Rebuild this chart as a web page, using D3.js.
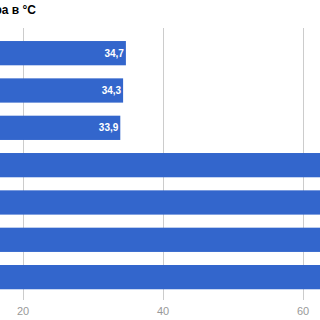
<!DOCTYPE html>
<html>
<head>
<meta charset="utf-8">
<script src="https://cdn.jsdelivr.net/npm/d3@7"></script>
<style>
  body { margin: 0; background: #fff; }
  svg { display: block; font-family: "Liberation Sans", Arial, sans-serif; }
</style>
</head>
<body>
<div id="chart"></div>
<script>
// data (bars 4-7 run off the right edge, values estimated)
var categories = ["A", "B", "C", "D", "E", "F", "G"]
var temps = [34.7, 34.3, 33.9, 72.4, 75.1, 77.8, 80.3]
var ticks = [0, 20, 40, 60, 80]
var title = "Температура в °C"

var width = 320
var height = 320

var svg = d3.select("#chart")
            .append("svg")
            .attr("width", width)
            .attr("height", height)

// chart is cropped: zero sits off to the left
var x = d3.scaleLinear()
          .domain([0, 80])
          .range([-117, 443])

var y = d3.scaleBand()
          .domain(categories)
          .range([34.5, 295.8])
          .paddingInner(0.35)
          .paddingOuter(0.175)

// gridlines
svg.append("g")
   .selectAll("line")
   .data(ticks)
   .join("line")
   .attr("x1", d => Math.round(x(d)) + 0.5)
   .attr("x2", d => Math.round(x(d)) + 0.5)
   .attr("y1", 28)
   .attr("y2", 300)
   .attr("stroke", "#cccccc")
   .attr("stroke-width", 1)

// tick labels
svg.append("g")
   .selectAll("text")
   .data(ticks)
   .join("text")
   .attr("x", d => x(d))
   .attr("y", 315)
   .attr("text-anchor", "middle")
   .attr("font-size", "11px")
   .attr("fill", "#999999")
   .text(d => d)

// bars
svg.append("g")
   .selectAll("rect")
   .data(temps)
   .join("rect")
   .attr("x", x(0))
   .attr("y", (d, i) => y(categories[i]))
   .attr("width", d => x(d) - x(0))
   .attr("height", y.bandwidth())
   .attr("fill", "#3366cc")

// value labels inside bar ends
svg.append("g")
   .selectAll("text")
   .data(temps)
   .join("text")
   .attr("x", d => x(d) - 2)
   .attr("y", (d, i) => y(categories[i]) + y.bandwidth() / 2)
   .attr("dy", "0.35em")
   .attr("text-anchor", "end")
   .attr("font-size", "10px")
   .attr("font-weight", "bold")
   .attr("fill", "#ffffff")
   .text(d => d3.format(".1f")(d).replace(".", ","))

// category labels (left of the visible area)
svg.append("g")
   .selectAll("text")
   .data(categories)
   .join("text")
   .attr("x", x(0) - 6)
   .attr("y", d => y(d) + y.bandwidth() / 2)
   .attr("dy", "0.35em")
   .attr("text-anchor", "end")
   .attr("font-size", "11px")
   .attr("fill", "#222")
   .text(d => d)

// title, cut off on the left like the reference
svg.append("text")
   .attr("x", 36)
   .attr("y", 14)
   .attr("text-anchor", "end")
   .attr("font-size", "12px")
   .attr("font-weight", "bold")
   .attr("fill", "#000")
   .text(title)
</script>
</body>
</html>
